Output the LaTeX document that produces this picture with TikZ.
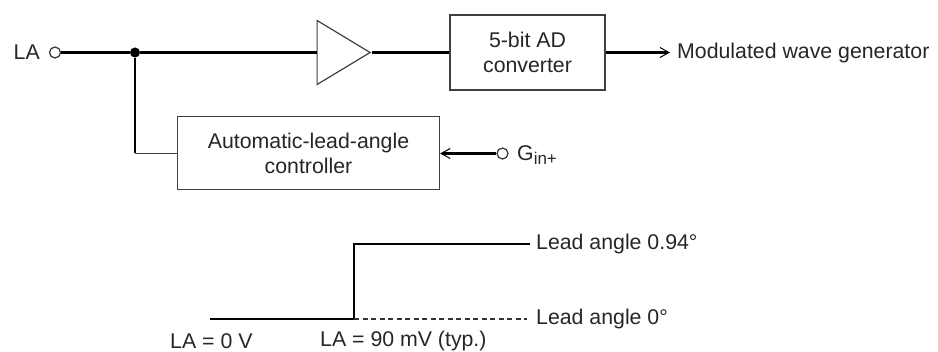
\documentclass[tikz,border=0pt]{standalone}
\usepackage{fontspec}
\setmainfont{Liberation Sans}
\usetikzlibrary{shapes.geometric,arrows.meta}
\tikzset{
  label text/.style={inner sep=0pt,anchor=west,font=\fontsize{21.3}{25}\selectfont,text=black!85},
  block/.style={draw=black!75,line width=1.3pt,fill=white,inner sep=0pt,align=center,font=\fontsize{21.3}{25}\selectfont,text=black!85},
  terminal/.style={circle,draw=black!80,line width=1.2pt,fill=white,inner sep=0pt,minimum size=11pt},
  junction/.style={circle,fill=black,inner sep=0pt,minimum size=10pt},
  buffer/.style={isosceles triangle,isosceles triangle stretches,draw=black!75,line width=1.2pt,fill=white,inner sep=0pt,minimum height=53pt,minimum width=64pt,anchor=lower side},
  wire/.style={draw=black,line width=2.9pt},
  thin wire/.style={draw=black!75,line width=1.3pt},
  sig arrow/.style={-{Straight Barb[length=9pt,width=10pt,line width=1pt]}}
}
\begin{document}
\begin{tikzpicture}[x=1pt,y=-1pt]
\useasboundingbox (0,0) rectangle (938,352);

\node[label text](la) at (13.5,52.5) {LA};
\node[terminal](la in) at (55,52.5) {};
\node[junction](branch) at (135,52.5) {};
\node[buffer](amp) at (316.5,52.5) {};
\node[block,minimum width=155pt,minimum height=75pt](adc) at (527.5,52.5) {5-bit AD\\converter};
\node[label text](modgen) at (677,52.5) {Modulated wave generator};

\node[block,minimum width=262pt,minimum height=73pt](lead ctrl) at (308.5,153) {Automatic-lead-angle\\controller};
\node[terminal](gin in) at (502.5,153.5) {};
\node[label text](gin) at (517,155) {G\raisebox{-0.22em}{\fontsize{17}{17}\selectfont in+}};

\coordinate (corner) at (135,153.5);
\coordinate (adc out) at (670,52.5);

\draw[wire] (la in) to (branch);
\draw[wire] (branch) to (amp.lower side);
\draw[wire] (amp.apex) to (adc);
\draw[wire] (branch) to (corner);
\draw[thin wire] (corner) to (lead ctrl.west |- corner);
\draw[wire,sig arrow] (adc) to (adc out);
\draw[wire,sig arrow] (gin in) to (lead ctrl.east |- gin in);

\node[label text](lead high) at (536,244) {Lead angle 0.94°};
\node[label text](lead low) at (536,319) {Lead angle 0°};
\node[label text](la zero) at (170,341) {LA = 0 V};
\node[label text](la typ) at (320,341) {LA = 90 mV (typ.)};

\coordinate (low start) at (210,319);
\coordinate (step low) at (354,319);
\coordinate (step high) at (354,244);
\coordinate (high end) at (530,244);
\coordinate (dash end) at (527,319);

\draw[wire,line join=miter] (low start) -- (step low) -- (step high) -- (high end);
\draw[draw=black!80,line width=1.1pt,dash pattern=on 5pt off 3.5pt] (step low) to (dash end);

\end{tikzpicture}
\end{document}
